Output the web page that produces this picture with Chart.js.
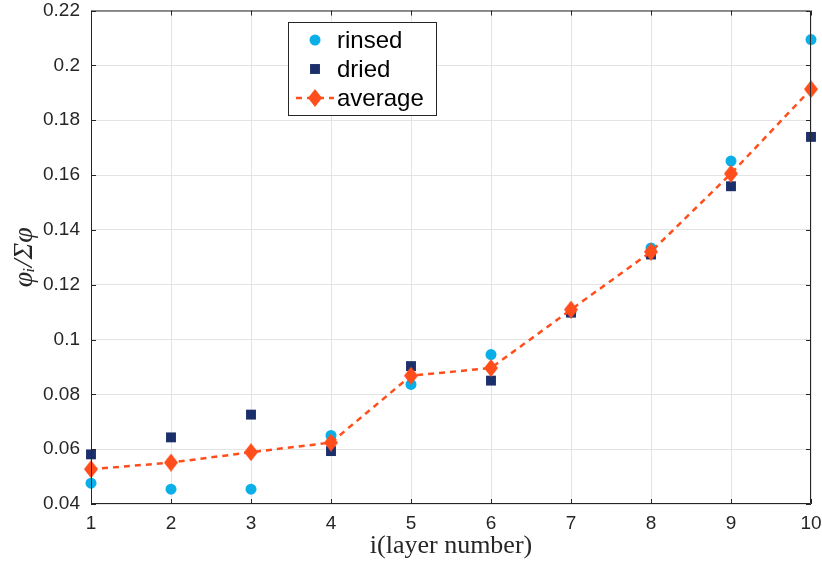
<!DOCTYPE html>
<html>
<head>
<meta charset="utf-8">
<script src="https://cdn.jsdelivr.net/npm/chart.js@4"></script>
<style>
  html, body { margin: 0; padding: 0; background: #fff; }
  #wrap { width: 822px; height: 567px; }
</style>
</head>
<body>
<div id="wrap"><canvas id="myChart"></canvas></div>
<script>
const layers = [1, 2, 3, 4, 5, 6, 7, 8, 9, 10]
const rinsed = [0.0476, 0.0454, 0.0454, 0.0650, 0.0836, 0.0945, 0.1100, 0.1334, 0.1651, 0.2094]
const dried = [0.0581, 0.0643, 0.0726, 0.0593, 0.0903, 0.0850, 0.1098, 0.1310, 0.1559, 0.1739]
const average = [0.0527, 0.0551, 0.0589, 0.0624, 0.0868, 0.0896, 0.1109, 0.1320, 0.1605, 0.1913]
const yTicks = [0.04, 0.06, 0.08, 0.1, 0.12, 0.14, 0.16, 0.18, 0.2, 0.22]
const yTickLabels = ['0.04', '0.06', '0.08', '0.1', '0.12', '0.14', '0.16', '0.18', '0.2', '0.22']
const xTicks = [1, 2, 3, 4, 5, 6, 7, 8, 9, 10]

const axisColor = '#262626'
const gridColor = '#e3e3e3'
const tickFont = { family: "'Liberation Sans', Arial, sans-serif", size: 19 }

function points(ys) {
    return layers.map((x, i) => ({ x: x, y: ys[i] }))
}

// MATLAB style diamond (taller than wide)
function diamond(w, h, color) {
    const c = document.createElement('canvas')
    c.width = w
    c.height = h
    const g = c.getContext('2d')
    g.fillStyle = color
    g.beginPath()
    g.moveTo(w / 2, 0)
    g.lineTo(w, h / 2)
    g.lineTo(w / 2, h)
    g.lineTo(0, h / 2)
    g.closePath()
    g.fill()
    return c
}
const diamondImg = diamond(14, 18, '#ff4e1c')

// box, inward ticks and legend drawn like the original figure
const framePlugin = {
    id: 'frame',
    afterDraw(chart) {
        const ctx = chart.ctx
        const a = chart.chartArea
        const xs = chart.scales.x
        const ys = chart.scales.y
        ctx.save()
        ctx.strokeStyle = axisColor
        ctx.lineWidth = 1
        ctx.beginPath()
        ctx.moveTo(a.left + 0.5, a.top + 0.5)
        ctx.lineTo(a.right - 0.5, a.top + 0.5)
        ctx.lineTo(a.right - 0.5, a.bottom - 0.5)
        ctx.lineTo(a.left + 0.5, a.bottom - 0.5)
        ctx.closePath()
        ctx.stroke()
        const t = 5
        ctx.beginPath()
        xTicks.forEach(v => {
            const px = Math.round(xs.getPixelForValue(v)) + 0.5
            ctx.moveTo(px, a.bottom); ctx.lineTo(px, a.bottom - t)
            ctx.moveTo(px, a.top); ctx.lineTo(px, a.top + t)
        })
        yTicks.forEach(v => {
            const py = Math.round(ys.getPixelForValue(v)) + 0.5
            ctx.moveTo(a.left, py); ctx.lineTo(a.left + t, py)
            ctx.moveTo(a.right, py); ctx.lineTo(a.right - t, py)
        })
        ctx.stroke()

        // legend
        const lx = 288, ly = 22, lw = 148, lh = 93
        ctx.fillStyle = '#fff'
        ctx.fillRect(lx, ly, lw, lh)
        ctx.strokeStyle = axisColor
        ctx.strokeRect(lx + 0.5, ly + 0.5, lw, lh)
        ctx.font = "24px 'Liberation Sans', Arial, sans-serif"
        ctx.textBaseline = 'middle'
        chart.data.datasets.forEach((ds, i) => {
            const cy = 40 + i * 29
            const mx = 315
            if (ds.showLine) {
                ctx.strokeStyle = ds.borderColor
                ctx.lineWidth = ds.borderWidth
                ctx.setLineDash(ds.borderDash)
                ctx.beginPath()
                ctx.moveTo(296, cy); ctx.lineTo(334, cy)
                ctx.stroke()
                ctx.setLineDash([])
            }
            if (ds.pointStyle === 'circle') {
                ctx.fillStyle = ds.pointBackgroundColor
                ctx.beginPath()
                ctx.arc(mx, cy, ds.pointRadius, 0, Math.PI * 2)
                ctx.fill()
            } else if (ds.pointStyle === 'rect') {
                const s = ds.pointRadius * Math.SQRT1_2
                ctx.fillStyle = ds.pointBackgroundColor
                ctx.fillRect(mx - s, cy - s, 2 * s, 2 * s)
            } else {
                ctx.drawImage(ds.pointStyle, mx - ds.pointStyle.width / 2, cy - ds.pointStyle.height / 2)
            }
            ctx.fillStyle = '#000'
            ctx.fillText(ds.label, 337, cy + 1)
        })
        ctx.restore()
    }
}

const data = {
    datasets: [
        {
            label: 'rinsed',
            data: points(rinsed),
            showLine: false,
            clip: false,
            pointStyle: 'circle',
            pointRadius: 5.5,
            pointBackgroundColor: '#0bafe8',
            pointBorderColor: '#0bafe8',
            pointBorderWidth: 0,
            order: 3
        },
        {
            label: 'dried',
            data: points(dried),
            showLine: false,
            clip: false,
            pointStyle: 'rect',
            pointRadius: 7,
            pointBackgroundColor: '#1b2f6b',
            pointBorderColor: '#1b2f6b',
            pointBorderWidth: 0,
            order: 2
        },
        {
            label: 'average',
            data: points(average),
            showLine: true,
            clip: false,
            borderColor: '#ff4e1c',
            borderWidth: 2.5,
            borderDash: [6, 5],
            pointStyle: diamondImg,
            pointRadius: 8,
            pointBackgroundColor: '#ff4e1c',
            order: 1
        }
    ]
}

const config = {
    type: 'scatter',
    data: data,
    plugins: [framePlugin],
    options: {
        responsive: true,
        maintainAspectRatio: false,
        animation: false,
        layout: { padding: { left: 0, top: 8, right: 11, bottom: 0 } },
        plugins: {
            legend: { display: false },
            tooltip: { enabled: false }
        },
        scales: {
            x: {
                type: 'linear',
                min: 1,
                max: 10,
                afterBuildTicks: s => { s.ticks = xTicks.map(v => ({ value: v })) },
                afterFit: s => { s.height = 63; s.paddingLeft = 0; s.paddingRight = 0 },
                ticks: { color: axisColor, font: tickFont, padding: 8, maxRotation: 0 },
                grid: { color: gridColor, drawTicks: false },
                border: { display: false },
                title: {
                    display: true,
                    text: 'i(layer number)',
                    color: axisColor,
                    font: { family: "'Liberation Serif', 'Times New Roman', serif", size: 26 },
                    padding: { top: 0, bottom: 5 }
                }
            },
            y: {
                type: 'linear',
                min: 0.04,
                max: 0.22,
                afterBuildTicks: s => { s.ticks = yTicks.map(v => ({ value: v })) },
                afterFit: s => { s.width = 91; s.paddingTop = 0; s.paddingBottom = 0 },
                ticks: {
                    color: axisColor,
                    font: tickFont,
                    padding: 11,
                    callback: v => yTickLabels[yTicks.indexOf(v)]
                },
                grid: { color: gridColor, drawTicks: false },
                border: { display: false },
                title: {
                    display: true,
                    text: 'φᵢ/Σφ',
                    color: axisColor,
                    font: { family: "'Liberation Serif', 'DejaVu Serif', serif", size: 28, style: 'italic' },
                    padding: { bottom: 0, top: 8 }
                }
            }
        }
    }
}

new Chart(document.getElementById('myChart'), config)
</script>
</body>
</html>
